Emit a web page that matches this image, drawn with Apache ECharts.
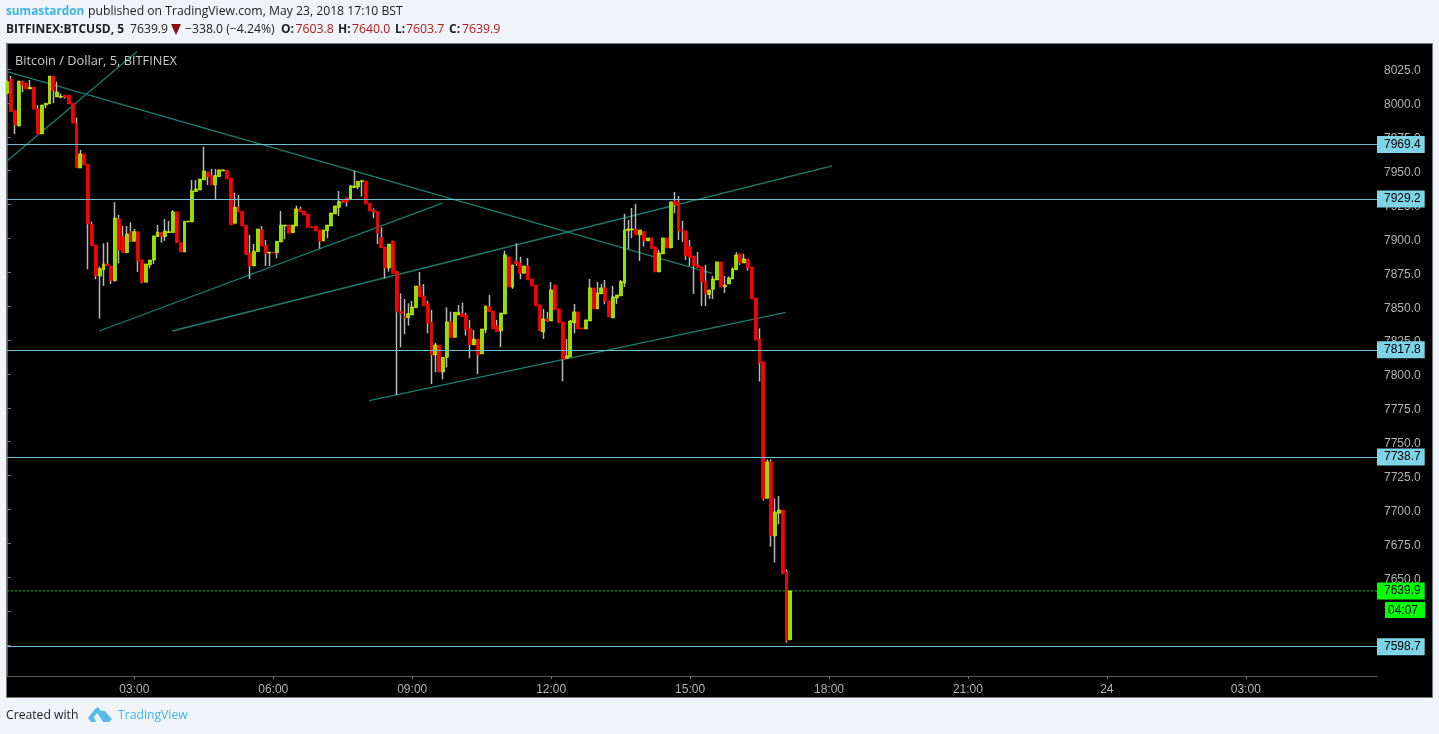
<!DOCTYPE html>
<html><head><meta charset="utf-8">
<style>html,body{margin:0;padding:0;background:#f0f3f7;}#c{width:1439px;height:734px;}</style>
<script src="https://cdn.jsdelivr.net/npm/echarts@6/dist/echarts.min.js"></script>
</head><body><div id="c"></div>
<script>
const opens=[
8007.1,8017.7,7994.3,7983.0,8015.8,8014.5,8010.3,8011.8,7995.6,7977.1,
7998.5,7999.3,8019.9,8004.4,8004.2,8005.7,8005.7,7999.8,7985.0,7952.0,
7962.4,7954.7,7910.7,7895.2,7872.3,7876.8,7881.2,7879.7,7868.9,7914.4,
7901.4,7889.6,7905.0,7897.9,7905.0,7884.1,7867.7,7880.5,7884.1,7901.4,
7904.3,7901.4,7904.3,7904.3,7919.6,7896.9,7890.0,7912.2,7912.2,7934.6,
7935.8,7943.2,7949.1,7946.4,7939.5,7945.6,7949.8,7950.5,7944.6,7911.2,
7923.0,7920.0,7909.7,7889.0,7879.7,7890.3,7906.3,7894.9,7889.3,7890.0,
7889.5,7897.4,7909.2,7909.9,7904.3,7909.2,7921.8,7920.3,7918.1,7908.7,
7909.2,7906.3,7898.1,7905.8,7909.2,7918.1,7923.0,7928.9,7930.1,7928.9,
7937.5,7938.0,7941.9,7942.4,7925.9,7921.0,7920.0,7900.8,7893.5,7878.2,
7897.9,7875.5,7846.2,7842.3,7841.6,7843.5,7848.9,7864.9,7857.6,7851.9,
7838.4,7814.0,7821.4,7801.5,7812.3,7838.4,7827.0,7843.5,7844.8,7843.5,
7833.7,7821.4,7825.6,7814.8,7832.5,7849.5,7846.5,7835.5,7831.8,7844.3,
7886.4,7864.2,7883.4,7881.9,7874.3,7879.7,7870.1,7865.7,7851.0,7831.0,
7840.6,7839.1,7865.7,7848.0,7838.4,7811.6,7812.6,7837.7,7845.8,7834.0,
7833.2,7839.1,7863.5,7848.0,7859.1,7863.5,7853.9,7841.4,7856.1,7857.6,
7867.2,7905.8,7906.3,7907.0,7902.6,7905.1,7898.2,7900.4,7893.8,7875.3,
7888.6,7900.4,7893.0,7927.7,7927.0,7906.3,7905.6,7893.8,7887.1,7880.5,
7879.0,7868.7,7858.6,7862.5,7869.4,7882.7,7864.2,7866.4,7870.1,7876.8,
7888.6,7881.9,7884.9,7879.0,7856.1,7825.8,7808.9,7708.2,7735.1,7680.5,
7697.2,7699.6,7653.9,7603.8];
const closes=[
8015.7,7993.6,7983.8,8016.2,8013.3,8010.3,8011.6,7995.3,7977.1,7998.5,
7999.8,8019.9,8009.1,8008.1,8004.9,8004.2,7999.3,7985.0,7952.0,7962.4,
7954.2,7910.7,7894.5,7872.3,7877.7,7881.2,7879.7,7868.9,7915.1,7891.5,
7889.6,7903.3,7898.2,7905.0,7883.6,7867.7,7881.2,7884.1,7901.9,7904.8,
7901.4,7905.5,7905.0,7919.6,7896.9,7890.0,7912.7,7912.9,7935.1,7936.5,
7943.9,7949.8,7945.6,7939.5,7946.4,7950.6,7950.6,7943.9,7909.9,7923.0,
7919.5,7909.2,7888.5,7879.7,7890.5,7907.0,7894.5,7889.0,7890.0,7889.3,
7897.9,7909.9,7909.9,7903.8,7909.9,7921.8,7919.8,7917.3,7908.2,7908.0,
7905.5,7897.9,7906.3,7909.9,7918.8,7924.0,7927.2,7926.4,7927.2,7938.7,
7938.7,7942.2,7942.7,7925.4,7920.3,7919.5,7903.8,7893.0,7878.2,7895.9,
7874.3,7846.2,7844.3,7841.6,7844.5,7849.4,7864.9,7856.8,7850.4,7837.6,
7814.0,7821.4,7801.5,7812.3,7838.4,7827.0,7845.5,7845.5,7842.3,7832.9,
7821.4,7825.6,7814.0,7833.2,7850.2,7846.0,7833.2,7831.3,7845.0,7887.9,
7864.2,7880.5,7881.2,7874.3,7879.7,7869.4,7865.0,7850.2,7831.8,7840.6,
7839.1,7862.0,7847.3,7837.7,7810.9,7813.3,7839.1,7845.8,7833.2,7833.2,
7839.9,7863.5,7848.0,7859.8,7863.5,7853.9,7842.1,7856.9,7858.3,7868.2,
7906.3,7907.0,7907.0,7902.6,7906.3,7898.2,7900.4,7892.5,7875.3,7889.3,
7900.4,7893.0,7927.0,7924.8,7905.6,7905.6,7887.1,7886.1,7879.7,7878.5,
7867.9,7859.1,7862.0,7870.1,7882.7,7864.2,7865.5,7870.9,7877.5,7887.8,
7881.9,7884.9,7878.2,7855.4,7825.1,7808.1,7708.2,7735.1,7680.5,7698.2,
7699.6,7652.9,7603.0,7639.9];
const highs=[
8017.0,8019.9,7994.3,8016.2,8016.5,8014.5,8017.0,8011.8,7998.5,7998.5,
7999.8,8019.9,8019.9,8015.8,8007.1,8005.7,8005.7,7999.8,7989.2,7965.3,
7962.4,7954.7,7912.4,7895.2,7879.2,7896.4,7897.2,7879.7,7926.7,7917.4,
7909.2,7909.2,7911.9,7907.0,7905.0,7884.1,7881.2,7884.1,7901.9,7910.0,
7904.3,7914.4,7912.9,7921.0,7919.6,7896.9,7912.7,7912.9,7943.2,7943.2,
7943.9,7967.8,7949.1,7951.3,7951.3,7950.6,7950.6,7950.5,7944.6,7933.8,
7932.1,7920.0,7909.7,7902.6,7895.9,7907.0,7909.2,7898.9,7890.0,7890.0,
7897.9,7920.3,7909.9,7909.9,7909.9,7924.2,7923.5,7920.3,7918.1,7908.7,
7909.2,7906.3,7906.3,7909.9,7918.8,7924.0,7935.0,7928.9,7930.1,7939.5,
7950.0,7942.2,7942.7,7942.4,7925.9,7922.2,7920.0,7908.2,7893.5,7895.9,
7898.4,7876.2,7859.5,7855.3,7852.1,7853.9,7864.9,7875.3,7866.4,7853.9,
7847.2,7823.1,7821.4,7812.3,7849.2,7846.0,7845.5,7850.9,7852.6,7845.2,
7839.8,7832.5,7825.6,7833.2,7850.2,7858.3,7846.5,7839.9,7845.0,7890.8,
7886.4,7880.5,7896.5,7886.4,7879.7,7885.6,7870.1,7865.7,7851.0,7848.0,
7845.8,7867.9,7865.7,7848.0,7838.4,7825.9,7839.9,7851.7,7845.8,7834.0,
7839.9,7870.1,7863.5,7867.9,7866.4,7869.4,7853.9,7865.0,7858.3,7869.4,
7918.1,7913.7,7922.5,7925.5,7906.3,7905.1,7900.4,7900.4,7893.8,7891.5,
7900.4,7900.4,7927.0,7934.3,7931.4,7912.9,7905.6,7898.9,7887.1,7890.1,
7879.0,7880.5,7862.0,7872.4,7882.7,7882.7,7872.4,7872.0,7878.7,7889.8,
7888.6,7888.6,7884.9,7879.0,7856.1,7833.7,7808.9,7737.0,7737.0,7708.2,
7710.0,7699.6,7655.9,7640.0];
const lows=[
8007.1,7993.6,7977.1,7983.0,8007.9,8010.3,8010.3,7995.3,7977.1,7977.1,
7996.1,7999.3,7999.8,8004.4,8003.4,8003.2,7999.3,7985.0,7952.0,7952.0,
7954.2,7877.3,7894.5,7869.9,7840.8,7865.0,7879.7,7866.4,7868.2,7881.7,
7889.6,7889.6,7897.7,7897.9,7875.3,7867.0,7867.7,7878.0,7881.2,7901.4,
7896.9,7898.2,7904.3,7904.3,7896.9,7890.0,7890.0,7912.2,7912.2,7934.6,
7935.8,7943.2,7939.5,7939.5,7928.4,7945.6,7949.8,7943.9,7909.9,7911.2,
7919.5,7909.2,7887.8,7870.1,7879.7,7890.3,7894.5,7879.7,7879.7,7889.3,
7885.3,7897.4,7899.4,7903.8,7904.3,7909.2,7919.8,7917.3,7908.2,7908.0,
7905.5,7892.5,7898.1,7900.1,7909.2,7918.1,7916.6,7926.4,7923.5,7928.9,
7937.5,7936.3,7930.9,7925.4,7920.3,7914.9,7895.9,7893.0,7870.6,7875.5,
7874.3,7784.5,7819.7,7829.5,7835.7,7843.5,7848.9,7856.8,7850.4,7830.0,
7792.6,7801.2,7801.5,7796.0,7804.9,7827.0,7827.0,7843.5,7842.3,7828.3,
7811.6,7821.4,7800.0,7814.8,7830.0,7846.0,7833.2,7831.3,7819.7,7844.3,
7864.2,7862.8,7879.7,7869.9,7874.3,7869.4,7865.0,7850.2,7831.8,7825.9,
7838.4,7839.1,7847.3,7837.7,7794.6,7811.6,7812.6,7830.0,7833.2,7833.2,
7833.2,7839.1,7848.0,7848.0,7859.1,7851.4,7842.1,7841.4,7851.7,7857.6,
7864.2,7892.3,7900.2,7902.6,7883.4,7894.0,7898.2,7892.5,7875.3,7875.3,
7888.6,7893.0,7893.0,7918.6,7898.9,7897.4,7884.2,7879.7,7859.1,7878.5,
7850.2,7850.2,7855.4,7855.4,7869.4,7864.2,7859.8,7866.4,7870.1,7876.8,
7880.5,7881.9,7876.3,7855.4,7825.1,7794.4,7706.5,7708.2,7672.6,7660.8,
7689.1,7652.2,7601.7,7603.7];

const slotCount=356;
const tickTimes=['03:00','06:00','09:00','12:00','15:00','18:00','21:00','24 00:00','24 03:00'];
const priceTicks=[8025,8000,7975,7950,7925,7900,7875,7850,7825,7800,7775,7750,7725,7700,7675,7650,7625,7600];
const levels=[7969.4,7929.2,7817.8,7738.7,7598.7];
const lastPrice=7639.9;
// trend lines: [bar index, price] end points
const trendDown=[[0,8023.1],[182.7,7874.3]];
const trendSteep=[[0,7957.2],[33.7,8037.9]];
const trendLow=[[23.85,7831.7],[112.8,7926.0]];
const trendMid=[[42.8,7831.7],[213.8,7953.5]];
const trendBase=[[93.8,7780.3],[201.8,7845.5]];

const categories=[];
for(let i=0;i<slotCount;i++){
  const m=15+5*i, d=Math.floor(m/1440), mm=m%1440;
  const s=String(Math.floor(mm/60)).padStart(2,'0')+':'+String(mm%60).padStart(2,'0');
  categories.push(d?'24 '+s:s);
}
const wickData=opens.map((o,i)=>[o,closes[i],lows[i],highs[i]]);
const bodyData=opens.map((o,i)=>[o,closes[i],Math.min(o,closes[i]),Math.max(o,closes[i])]);
const AX='"Liberation Sans",Arial,sans-serif', UI='"Open Sans","Noto Sans",sans-serif';
const teal='#187f72', lvl='#6fc0d0';
const trendSeries=d=>({type:'line',xAxisIndex:1,yAxisIndex:0,data:d,symbol:'none',silent:true,z:3,
  lineStyle:{color:teal,width:1.3},animation:false});
const levelMark=v=>({yAxis:v,lineStyle:{color:lvl,width:1,type:'solid'},
  label:{show:true,position:'end',distance:0,formatter:v.toFixed(1),color:'#000',fontFamily:AX,fontSize:12,
    backgroundColor:'#7fd3e6',padding:[4,4,1,7]}});
const txt=(x,y,t,o)=>({type:'text',x:x,y:y,z:10,style:Object.assign({text:t,fontFamily:UI,fontSize:12.2,fill:'#1e1e1e',textVerticalAlign:'middle'},o||{})});
const redVal={fill:'#b01c1c',fontSize:12.3}, bold={fontWeight:'bold',fontSize:12};

const chart=echarts.init(document.getElementById('c'),null,{renderer:'canvas'});
chart.setOption({
  animation:false,
  backgroundColor:'#f0f3f7',
  grid:{left:7,right:62,top:44,bottom:58,containLabel:false},
  xAxis:[{
    type:'category',data:categories,boundaryGap:false,
    axisLine:{lineStyle:{color:'#5a5a5a',width:1}},
    axisTick:{length:3,alignWithLabel:true,lineStyle:{color:'#777'},interval:(i,v)=>tickTimes.includes(v)},
    axisLabel:{color:'#b4b4b4',fontFamily:AX,fontSize:12,margin:8,hideOverlap:false,
      interval:(i,v)=>tickTimes.includes(v),
      formatter:v=>v==='24 00:00'?'24':v.slice(-5)},
    splitLine:{show:false}
  },{type:'value',min:0,max:slotCount-1,show:false}],
  yAxis:{
    type:'value',position:'right',min:7577.1,max:8043.5,scale:true,
    axisLine:{show:true,lineStyle:{color:'#5a5a5a',width:1}},
    axisTick:{show:true,length:4,lineStyle:{color:'#777'},customValues:priceTicks},
    axisLabel:{color:'#b4b4b4',fontFamily:AX,fontSize:12,margin:7,align:'left',customValues:priceTicks,
      rich:{p:{color:'#b4b4b4',fontFamily:AX,fontSize:12,padding:[4,0,0,0]}},
      formatter:v=>'{p|'+v.toFixed(1)+'}'},
    splitLine:{show:false}
  },
  series:[
    {type:'candlestick',name:'wicks',xAxisIndex:0,data:wickData,barWidth:1,silent:true,z:4,
     itemStyle:{color:'#b8b8b8',color0:'#b8b8b8',borderColor:'#b8b8b8',borderColor0:'#b8b8b8',borderWidth:1.5}},
    {type:'candlestick',name:'bodies',xAxisIndex:0,data:bodyData,barWidth:3.4,silent:true,z:5,
     itemStyle:{color:'#80e800',color0:'#ff0000',borderColor:'#f0ff00',borderColor0:'#ff0000',borderWidth:0.6},
     markLine:{silent:true,symbol:['none','none'],animation:false,precision:1,z:6,
       lineStyle:{color:lvl,width:1,type:'solid'},
       data:levels.map(levelMark).concat([{yAxis:lastPrice,
         lineStyle:{color:'rgba(0,0,0,0)',width:1,type:'solid'},
         label:{show:true,position:'end',distance:0,formatter:lastPrice.toFixed(1),color:'#000',fontFamily:AX,fontSize:12,
           backgroundColor:'#00ff00',padding:[4,4,1,7]}}])}},
    trendSeries(trendDown),trendSeries(trendSteep),trendSeries(trendLow),trendSeries(trendMid),trendSeries(trendBase),
    {type:'line',xAxisIndex:1,yAxisIndex:0,data:[[0,lastPrice],[slotCount-1,lastPrice]],symbol:'none',silent:true,z:3,
     lineStyle:{color:'#00d000',width:1,type:[2,2]}}
  ],
  graphic:[
    {type:'rect',z:-1,shape:{x:6.5,y:43.5,width:1426,height:654},style:{fill:'#000',stroke:'#7a7a7a',lineWidth:1}},
    txt(15,61,'Bitcoin / Dollar, 5, BITFINEX',{fill:'#c8c8c8',fontSize:12.8}),
    {type:'rect',z:9,shape:{x:1385,y:602,width:40,height:16},style:{fill:'#00ff00'}},
    {type:'text',x:1388,y:611,z:10,style:{text:'04:07',fontFamily:AX,fontSize:12,fill:'#000',textVerticalAlign:'middle'}},
    txt(6,11.5,'sumastardon',{fill:'#3bb3e4',fontWeight:'bold',fontSize:11.8}),
    txt(88,11.5,'published on TradingView.com, May 23, 2018 17:10 BST'),
    txt(6,29.5,'BITFINEX:BTCUSD, 5',bold),
    txt(130,29.5,'7639.9'),
    {type:'polygon',z:10,shape:{points:[[171,24],[181,24],[176,35]]},style:{fill:'#8b0f0f'}},
    txt(185,29.5,'\u2212338.0 (\u22124.24%)'),
    txt(281,29.5,'O:',bold),txt(295.5,29.5,'7603.8',redVal),
    txt(338,29.5,'H:',bold),txt(352,29.5,'7640.0',redVal),
    txt(395,29.5,'L:',bold),txt(406,29.5,'7603.7',redVal),
    txt(449,29.5,'C:',bold),txt(462,29.5,'7639.9',redVal),
    txt(6,716,'Created with'),
    {type:'polygon',z:10,shape:{points:[[88,718],[95,709],[98,707],[101,711],[105,711],[108,715],[112,719],[109,722],[103,722],[100,717],[97,713],[94,717],[96,722],[91,722]]},style:{fill:'#55bbe8'}},
    txt(118,716,'TradingView',{fill:'#45b4e6'})
  ]
});
</script></body></html>
